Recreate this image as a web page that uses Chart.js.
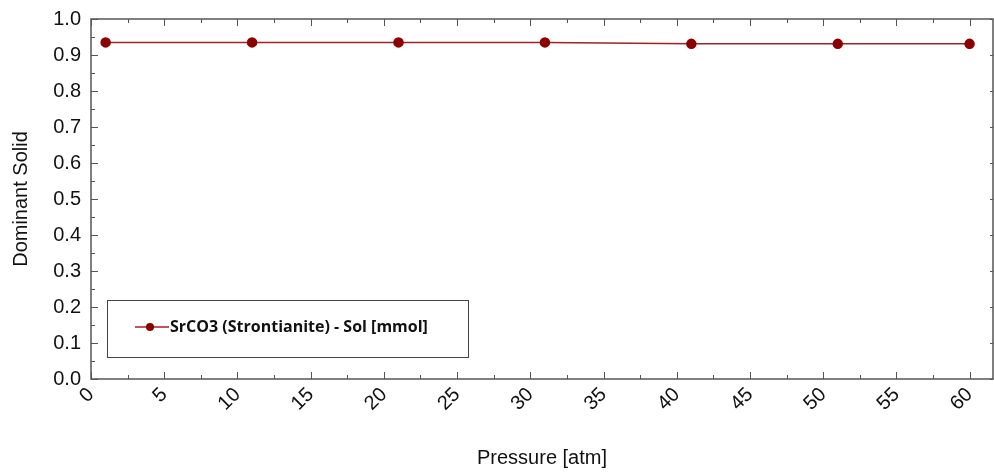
<!DOCTYPE html>
<html>
<head>
<meta charset="utf-8">
<script src="https://cdn.jsdelivr.net/npm/chart.js@4.4.1/dist/chart.umd.min.js"></script>
<style>
  html, body { margin: 0; padding: 0; background: #fff; }
  #wrap { width: 994px; height: 474px; position: relative; }
</style>
</head>
<body>
<div id="wrap"><canvas id="chart"></canvas></div>
<script>
// data
var pressures = [1, 11, 21, 31, 41, 51, 60];
var solidValues = [0.935, 0.935, 0.935, 0.935, 0.931, 0.931, 0.931];
var seriesName = "SrCO3 (Strontianite) - Sol [mmol]";
var xTitle = "Pressure [atm]";
var yTitle = "Dominant Solid";

var pointColor = "#8b0000";
var lineColor = "#a02323";
var axisColor = "#555555";

// inward tick marks + frame
var frameTicks = {
    id: "frameTicks",
    afterDatasetsDraw: function (chart) {
        var ctx = chart.ctx, a = chart.chartArea;
        var xs = chart.scales.x, ys = chart.scales.y;
        ctx.save();
        ctx.strokeStyle = axisColor;
        ctx.lineWidth = 1;
        // x ticks every 2.5, bottom and top
        for (var v = 0; v <= xs.max + 1e-9; v += 2.5) {
            var px = Math.round(xs.getPixelForValue(v)) + 0.5;
            var len = (v % 5 === 0) ? 7 : 4;
            ctx.beginPath();
            ctx.moveTo(px, a.bottom); ctx.lineTo(px, a.bottom - len);
            ctx.moveTo(px, a.top); ctx.lineTo(px, a.top + len);
            ctx.stroke();
        }
        // y ticks every 0.05 on left, 0.1 on right
        for (var i = 0; i <= 20; i++) {
            var py = Math.round(ys.getPixelForValue(i * 0.05)) + 0.5;
            var l = (i % 2 === 0) ? 7 : 4;
            ctx.beginPath();
            ctx.moveTo(a.left, py); ctx.lineTo(a.left + l, py);
            if (i % 2 === 0) { ctx.moveTo(a.right, py); ctx.lineTo(a.right - 3, py); }
            ctx.stroke();
        }
        // frame
        ctx.lineWidth = 1.5;
        ctx.strokeRect(a.left, a.top, a.right - a.left, a.bottom - a.top);
        ctx.restore();
    }
};

// boxed legend inside the plot
var boxLegend = {
    id: "boxLegend",
    afterDraw: function (chart) {
        var ctx = chart.ctx, a = chart.chartArea;
        var bx = a.left + 16, by = a.bottom - 79, bw = 361, bh = 57;
        ctx.save();
        ctx.strokeStyle = "#444";
        ctx.lineWidth = 1;
        ctx.strokeRect(bx + 0.5, by + 0.5, bw, bh);
        var ly = by + 27;
        ctx.strokeStyle = lineColor;
        ctx.lineWidth = 1.5;
        ctx.beginPath();
        ctx.moveTo(bx + 28, ly); ctx.lineTo(bx + 62, ly);
        ctx.stroke();
        ctx.fillStyle = pointColor;
        ctx.beginPath();
        ctx.arc(bx + 43, ly, 4, 0, Math.PI * 2);
        ctx.fill();
        ctx.fillStyle = "#111";
        ctx.font = "bold 16px 'Open Sans', Lato, sans-serif";
        ctx.textBaseline = "middle";
        ctx.fillText(chart.data.datasets[0].label, bx + 63, ly);
        ctx.restore();
    }
};

var ctx = document.getElementById("chart").getContext("2d");
new Chart(ctx, {
    type: "line",
    data: {
        datasets: [{
            label: seriesName,
            data: pressures.map(function (p, i) { return { x: p, y: solidValues[i] }; }),
            borderColor: lineColor,
            borderWidth: 1.5,
            backgroundColor: pointColor,
            pointBackgroundColor: pointColor,
            pointBorderColor: pointColor,
            pointRadius: 4.5,
            fill: false,
            tension: 0
        }]
    },
    options: {
        responsive: true,
        maintainAspectRatio: false,
        animation: false,
        layout: { autoPadding: false, padding: { top: 19, right: 1, left: 0, bottom: 4 } },
        plugins: {
            legend: { display: false },
            tooltip: { enabled: false }
        },
        scales: {
            x: {
                type: "linear",
                min: 0,
                max: 61.6,
                grid: { display: false, drawTicks: false },
                border: { display: false },
                ticks: {
                    stepSize: 5,
                    includeBounds: false,
                    autoSkip: false,
                    minRotation: 45,
                    maxRotation: 45,
                    padding: 4,
                    color: "#111",
                    font: { family: "'Liberation Sans', Arial", size: 20 }
                },
                title: {
                    display: true,
                    text: xTitle,
                    color: "#111",
                    padding: { top: 0, bottom: 0 },
                    font: { family: "'Liberation Sans', Arial", size: 20 }
                },
                afterFit: function (s) { s.height = 91; s.paddingLeft = 0; s.paddingRight = 0; }
            },
            y: {
                min: 0,
                max: 1,
                grid: { display: false, drawTicks: false },
                border: { display: false },
                ticks: {
                    stepSize: 0.1,
                    padding: 10,
                    color: "#111",
                    font: { family: "'Liberation Sans', Arial", size: 20 },
                    callback: function (v) { return v.toFixed(1); }
                },
                title: {
                    display: true,
                    text: yTitle,
                    color: "#111",
                    padding: { top: 9, bottom: 0 },
                    font: { family: "'Liberation Sans', Arial", size: 20 }
                },
                afterFit: function (s) { s.width = 91; s.paddingTop = 0; s.paddingBottom = 0; }
            }
        }
    },
    plugins: [frameTicks, boxLegend]
});
</script>
</body>
</html>
